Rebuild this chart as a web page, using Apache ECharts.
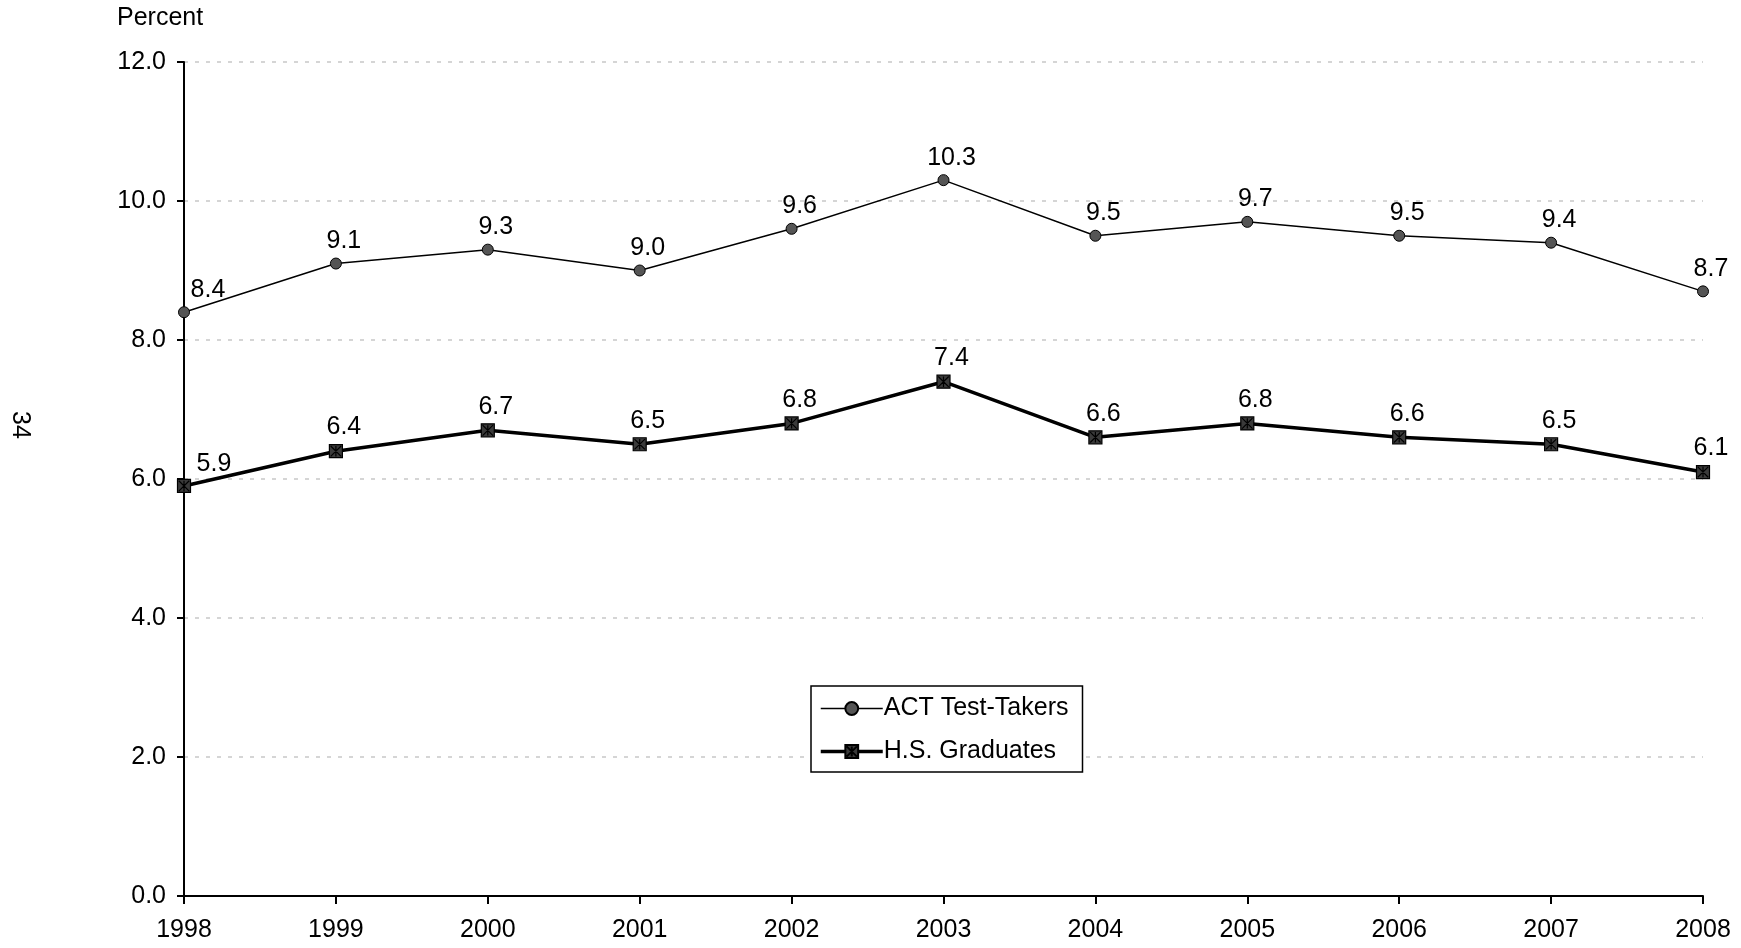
<!DOCTYPE html>
<html>
<head>
<meta charset="utf-8">
<script src="https://cdn.jsdelivr.net/npm/echarts@6/dist/echarts.min.js"></script>
<style>
html,body{margin:0;padding:0;background:#fff;}
#chart{width:1741px;height:948px;}
</style>
</head>
<body>
<div id="chart"></div>
<script>
const years = ['1998','1999','2000','2001','2002','2003','2004','2005','2006','2007','2008'];
const actTestTakers = [8.4, 9.1, 9.3, 9.0, 9.6, 10.3, 9.5, 9.7, 9.5, 9.4, 8.7];
const hsGraduates = [5.9, 6.4, 6.7, 6.5, 6.8, 7.4, 6.6, 6.8, 6.6, 6.5, 6.1];
const seriesNames = ['ACT Test-Takers', 'H.S. Graduates'];
const yAxisTitle = 'Percent';
const pageNumber = '34';

const FONT = '"Liberation Sans", Arial, sans-serif';
const FS = 25;
const hsSymbol = 'path://M0,0H10V10H0ZM1,1L9,9M9,1L1,9M5,1L5,9';

function labelsFor(data, firstOffset) {
  return data.map((v, i) => {
    const item = { value: v };
    if (i === 0) item.label = { offset: firstOffset };
    return item;
  });
}

const chart = echarts.init(document.getElementById('chart'), null, { renderer: 'canvas' });
chart.setOption({
  backgroundColor: '#ffffff',
  animation: false,
  textStyle: { fontFamily: FONT },
  grid: { left: 184, right: 38, top: 62, bottom: 52, containLabel: false },
  graphic: [
    { type: 'text', left: 117, top: 6, style: { text: yAxisTitle, font: FS + 'px ' + FONT, fill: '#000' } },
    { type: 'text', x: 20, y: 425, rotation: -Math.PI / 2,
      style: { text: pageNumber, font: FS + 'px ' + FONT, fill: '#000', align: 'center', verticalAlign: 'middle' } }
  ],
  legend: {
    orient: 'vertical',
    left: 811,
    top: 686,
    width: 270,
    padding: [10, 14, 8, 8],
    itemGap: 18,
    itemWidth: 62,
    itemHeight: 16,
    borderColor: '#000',
    borderWidth: 1.5,
    borderRadius: 0,
    backgroundColor: '#fff',
    textStyle: { fontSize: FS, color: '#000', fontFamily: FONT, padding: [0, 0, 0, -4] },
    data: [
      { name: seriesNames[0], lineStyle: { width: 1.5, color: '#000' } },
      { name: seriesNames[1], lineStyle: { width: 3.5, color: '#000' } }
    ]
  },
  xAxis: {
    type: 'category',
    data: years,
    boundaryGap: false,
    axisLine: { show: true, lineStyle: { color: '#000', width: 2 } },
    axisTick: { show: true, alignWithLabel: true, length: 8, lineStyle: { color: '#000', width: 2 } },
    axisLabel: { fontSize: FS, color: '#000', margin: 22, fontFamily: FONT },
    splitLine: { show: false }
  },
  yAxis: {
    type: 'value',
    min: 0,
    max: 12,
    interval: 2,
    axisLine: { show: true, lineStyle: { color: '#000', width: 2 } },
    axisTick: { show: true, length: 7, lineStyle: { color: '#000', width: 2 } },
    axisLabel: { fontSize: FS, color: '#000', margin: 18, fontFamily: FONT, formatter: v => v.toFixed(1) },
    splitLine: { show: true, lineStyle: { color: '#c8c8c8', width: 1.5, type: [4, 7] } }
  },
  series: [
    {
      name: seriesNames[0],
      type: 'line',
      data: labelsFor(actTestTakers, [24, 0]),
      symbol: 'circle',
      symbolSize: 11,
      lineStyle: { color: '#000', width: 1.5 },
      itemStyle: { color: '#555555', borderColor: '#000', borderWidth: 1 },
      label: { show: true, position: 'top', distance: 4, offset: [8, 0], fontSize: FS, color: '#000', fontFamily: FONT, formatter: p => p.value.toFixed(1) },
      z: 3
    },
    {
      name: seriesNames[1],
      type: 'line',
      data: labelsFor(hsGraduates, [30, 2]),
      symbol: hsSymbol,
      symbolSize: 13,
      lineStyle: { color: '#000', width: 3.5 },
      itemStyle: { color: '#3a3a3a', borderColor: '#000', borderWidth: 1.2 },
      label: { show: true, position: 'top', distance: 4, offset: [8, 0], fontSize: FS, color: '#000', fontFamily: FONT, formatter: p => p.value.toFixed(1) },
      z: 4
    }
  ]
});
</script>
</body>
</html>
